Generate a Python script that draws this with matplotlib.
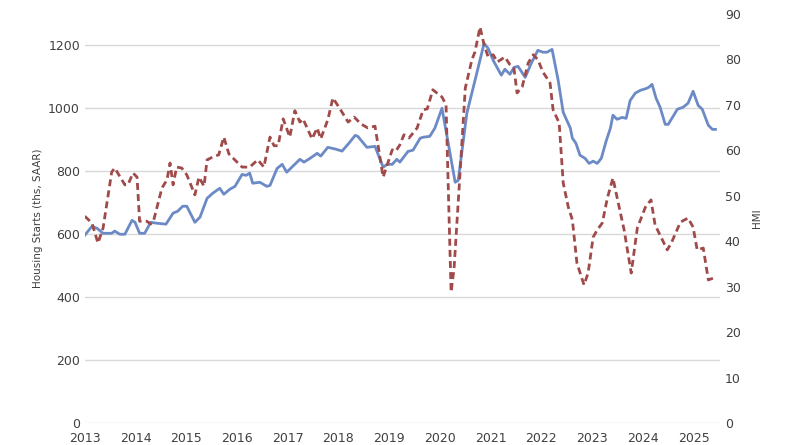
import matplotlib
matplotlib.use("Agg")
import matplotlib.pyplot as plt
import numpy as np

# years since 2013 (chart x position) and values
starts_t = [0.00,.14,.24,.36,.53,.59,.69,.79,.93,.99,1.08,1.18,1.30,1.42,1.60,1.74,1.83,1.93,2.01,2.17,2.27,2.41,2.52,2.66,2.74,2.86,2.96,3.10,3.18,3.25,3.31,3.45,3.59,3.65,3.79,3.89,3.98,4.10,4.24,4.32,4.44,4.58,4.65,4.79,4.95,5.07,5.19,5.33,5.38,5.56,5.72,5.88,5.96,6.06,6.15,
            6.21,6.37,6.47,6.61,6.67,6.80,6.90,7.04,7.16,7.30,7.36,7.53,7.73,7.87,7.95,8.05,8.21,8.28,8.38,8.46,8.54,8.68,8.80,8.93,9.03,9.11,9.21,9.33,9.43,9.57,9.61,9.68,9.76,9.86,9.94,10.02,10.10,10.18,10.28,10.36,10.41,10.49,10.59,10.67,10.75,10.85,10.95,11.07,11.12,11.18,11.26,11.34,11.44,11.50,11.68,11.79,11.89,11.99,12.09,12.17,12.29,12.37,12.43]
starts = [597,625,619,603,603,610,600,600,644,638,603,603,638,635,632,667,673,689,689,638,654,714,730,746,727,743,752,790,787,794,762,765,752,755,809,822,797,816,838,829,841,857,848,876,870,864,886,914,911,876,879,813,822,822,838,
          829,863,867,905,908,911,937,1000,892,765,771,984,1114,1206,1190,1152,1105,1124,1108,1130,1133,1098,1143,1184,1178,1178,1187,1089,987,937,905,889,851,841,825,832,825,841,898,937,978,965,971,968,1025,1048,1057,1063,1067,1076,1032,1003,949,949,997,1003,1016,1054,1009,997,946,933,933]

hmi_t = [0,.14,.26,.36,.53,.59,.79,.85,.95,1.03,1.08,1.22,1.30,1.36,1.52,1.62,1.68,1.74,1.81,1.91,2.01,2.17,2.25,2.35,2.41,2.52,2.64,2.74,2.84,2.92,3.10,3.25,3.41,3.53,3.65,3.73,3.81,3.91,4.04,4.14,4.24,4.30,4.48,4.58,4.65,4.79,4.89,5.03,5.19,5.31,5.44,5.58,5.72,5.88,6.06,6.13,
         6.21,6.29,6.39,6.55,6.67,6.75,6.86,7.04,7.12,7.22,7.28,7.40,7.50,7.63,7.69,7.79,7.87,7.95,8.05,8.13,8.28,8.38,8.46,8.52,8.62,8.74,8.84,8.93,9.03,9.17,9.23,9.35,9.43,9.53,9.61,9.70,9.84,9.92,10.02,10.10,10.20,10.30,10.41,10.49,10.63,10.77,10.89,11.05,11.16,11.24,11.48,11.56,11.74,11.89,11.99,12.07,12.19,12.29,12.39,12.45]
hmi = [45.5,44.0,39.6,42.9,55.2,56.1,52.4,52.4,55.0,54.1,44.4,44.4,43.8,44.7,51.7,53.5,57.2,52.4,56.3,56.1,54.6,50.2,54.1,52.1,57.9,58.5,59.0,62.9,59.2,58.3,56.3,56.3,57.9,56.3,62.9,61.0,61.0,66.9,62.9,68.7,66.2,66.9,62.5,64.9,62.5,66.7,71.5,69.1,66.2,67.3,65.8,64.9,65.3,54.1,60.1,59.8,
       61.2,63.4,62.7,64.9,68.9,69.1,73.3,71.7,70.0,28.8,34.3,55.7,73.7,79.9,81.6,87.1,83.2,80.5,81.0,79.4,80.5,78.8,77.9,72.6,73.9,79.2,81.0,79.9,77.2,74.8,68.9,66.0,52.8,47.5,44.7,35.2,30.4,33.0,40.9,42.5,44.0,49.5,53.9,49.7,42.5,33.0,42.9,47.5,49.1,43.6,38.1,39.6,44.2,45.1,43.1,38.1,38.5,31.5,31.9,31.7]

years = list(range(2013, 2026))

fig = plt.figure(figsize=(8, 4.45), dpi=100)
ax = fig.add_axes([0.106, 0.049, 0.794, 0.920])
ax2 = ax.twinx()

ax.plot(2013 + np.array(starts_t), starts, color="#6B8AC6", lw=2.0, zorder=3)
ax2.plot(2013 + np.array(hmi_t), hmi, color="#A04A4A", lw=2.0, ls=(0, (2.5, 1.5)), zorder=3)

ax.set_xlim(2013, 2025.52)
ax.set_ylim(0, 1300)
ax2.set_ylim(0, 90)
ax.set_yticks(range(0, 1201, 200))
ax2.set_yticks(range(0, 91, 10))
ax.set_xticks(years)
ax.set_xticklabels([str(y) for y in years])
ax.yaxis.grid(True, color="#d9d9d9", lw=1)
ax.set_axisbelow(True)
for a in (ax, ax2):
    for s in a.spines.values():
        s.set_visible(False)
    a.tick_params(length=0, labelsize=9, colors="#404040")
ax.tick_params(axis="x", pad=6)
ax.set_ylabel("Housing Starts (ths, SAAR)", fontsize=7.5, color="#404040")
ax2.set_ylabel("HMI", fontsize=7.5, color="#404040", labelpad=8)
fig.savefig("out.png", dpi=100)
